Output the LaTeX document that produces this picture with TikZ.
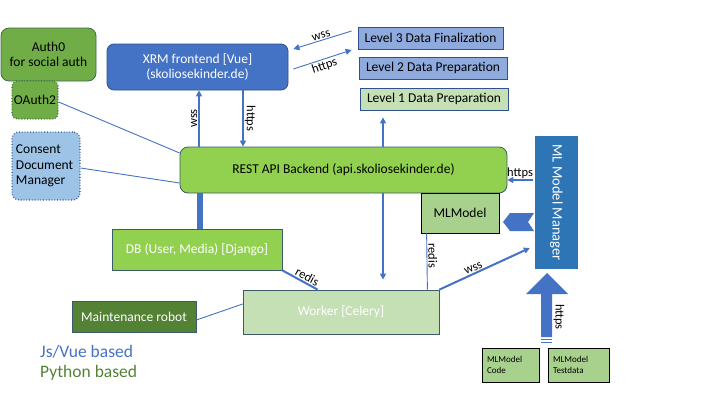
\documentclass[tikz,border=0pt]{standalone}
\usepackage{fontspec}
\setmainfont{Carlito}
\usetikzlibrary{arrows.meta}
\definecolor{jsblue}{HTML}{4472C4}
\definecolor{mgrblue}{HTML}{2E75B6}
\definecolor{lvlblue}{HTML}{8FAADC}
\definecolor{authgreen}{HTML}{70AD47}
\definecolor{restgreen}{HTML}{92D050}
\definecolor{palegreen}{HTML}{C5E0B4}
\definecolor{mlgreen}{HTML}{A9D18E}
\definecolor{pygreen}{HTML}{548235}
\definecolor{consentblue}{HTML}{9DC3E6}
\definecolor{edgegray}{HTML}{3B5B6B}
\definecolor{edgeblue}{HTML}{2F528F}
\definecolor{edgegreen}{HTML}{3D6B4F}
\begin{document}
\begin{tikzpicture}[x=1pt,y=-1pt,font=\fontsize{13.5}{15.5}\selectfont,
  box/.style={draw=edgegray,line width=0.8pt,inner sep=2pt,align=center},
  link/.style={draw=jsblue,line width=0.9pt},
  >={Triangle[length=6pt,width=6pt]},
  lbl/.style={font=\fontsize{12.5}{14}\selectfont,sloped,above,inner sep=1pt,text=black}]
\useasboundingbox (0,0) rectangle (720,405);

% auth and consent
\node[box,draw=edgegreen,fill=authgreen,rounded corners=8pt,minimum width=95pt,minimum height=53pt] (auth) at (48.5,54.5) {Auth0\\for social auth};
\node[box,draw=edgegreen,fill=authgreen,dotted,line width=1.2pt,rounded corners=5pt,minimum width=46pt,minimum height=38pt] (oauth) at (35,100) {OAuth2};
\node[box,draw=edgeblue,fill=consentblue,dotted,line width=1.2pt,rounded corners=7pt,minimum width=68pt,minimum height=68pt,inner xsep=4pt,text width=60pt,align=left] (consent) at (46,166) {Consent\\Document\\Manager};

% frontend and levels
\node[box,draw=edgeblue,fill=jsblue,text=white,rounded corners=7pt,minimum width=181pt,minimum height=46pt] (xrm) at (197.5,67) {XRM frontend [Vue]\\(skoliosekinder.de)};
\node[box,draw=edgeblue,fill=lvlblue,minimum width=145pt,minimum height=22pt] (lvl3) at (430.5,38) {Level 3 Data Finalization};
\node[box,draw=edgeblue,fill=lvlblue,minimum width=148pt,minimum height=22pt] (lvl2) at (433,68) {Level 2 Data Preparation};
\node[box,draw=edgeblue,fill=palegreen,minimum width=148pt,minimum height=22pt] (lvl1) at (434,99) {Level 1 Data Preparation};

% backend
\node[box,fill=restgreen,rounded corners=8pt,minimum width=327pt,minimum height=46pt] (rest) at (343.5,170) {REST API Backend (api.skoliosekinder.de)};
\node[box,fill=restgreen,text=white,minimum width=170pt,minimum height=41pt] (db) at (197,249.5) {DB (User, Media) [Django]};
\node[box,fill=pygreen,text=white,minimum width=124pt,minimum height=31pt] (robot) at (134,316.5) {Maintenance robot};
\node[box,fill=palegreen,text=white,minimum width=196pt,minimum height=44pt] (worker) at (341,312) {Worker [Celery]};
\node[box,draw=black,fill=mlgreen,minimum width=78pt,minimum height=40pt] (mlmodel) at (460,213) {MLModel};

% model manager
\node[fill=mgrblue,minimum width=43pt,minimum height=133pt,
  label={[rotate=-90,text=white,font=\fontsize{14.5}{16}\selectfont]center:ML Model Manager}] (manager) at (556.5,202.5) {};
\node[box,draw=black,fill=mlgreen,minimum width=57pt,minimum height=34pt,inner xsep=5pt,text width=47pt,align=left,font=\fontsize{9}{11}\selectfont] (code) at (510.5,365) {MLModel\\Code};
\node[box,draw=black,fill=mlgreen,minimum width=61pt,minimum height=34pt,inner xsep=5pt,text width=51pt,align=left,font=\fontsize{9}{11}\selectfont] (testdata) at (578.5,365) {MLModel\\Testdata};

% block arrow and chevron
\fill[jsblue] (541,337) -- (541,294) -- (526,294) -- (547,273) -- (568,294) -- (552,294) -- (552,337) -- cycle;
\fill[jsblue] (541,338.5) rectangle (552,340);
\fill[jsblue] (541,341.5) rectangle (552,343);
\node[font=\fontsize{12.5}{14}\selectfont,rotate=-90] (codehttps) at (559,317) {https};
\fill[jsblue] (503,222) -- (510,213) -- (534,213) -- (528,222) -- (534,231) -- (510,231) -- cycle;

% connectors
\draw[link,->] ([xshift=-6pt,yshift=7pt]lvl3.west) -- node[lbl] {wss} ([xshift=5pt,yshift=18pt]xrm.east);
\draw[link,->] ([xshift=5pt,yshift=-2pt]xrm.east) -- node[lbl,below] {https} ([xshift=-6pt,yshift=-12pt]lvl3.west);
\draw[link,line width=1.5pt,->] ([xshift=-144.5pt]rest.north) -- node[lbl] {wss} ([xshift=1.5pt]xrm.south);
\draw[link,line width=1.5pt,->] ([xshift=45.5pt]xrm.south) -- node[lbl] {https} ([xshift=-100.5pt]rest.north);
\draw[link] ([yshift=-2pt]oauth.east) -- ([yshift=17pt]rest.west);
\draw[link] ([yshift=-2pt]consent.east) -- ([yshift=-13pt]rest.west);
\draw[link,line width=1.5pt,->] ([xshift=39.5pt]rest.north) -- ([xshift=-51pt,yshift=-7pt]lvl1.south);
\draw[link,line width=1.5pt,->] ([xshift=39.5pt]rest.south) -- ([xshift=42pt,yshift=10pt]worker.north);
\draw[link,line width=6pt] ([xshift=-143.5pt]rest.south) -- ([xshift=3pt]db.north);
\draw[link,line width=2pt] (db.south east) -- node[lbl,pos=0.62] {redis} ([xshift=75pt]worker.north west);
\draw[link] ([yshift=-3.5pt]robot.east) -- ([yshift=8pt]worker.west);
\draw[link] ([xshift=6pt]mlmodel.south west) -- node[lbl,pos=0.4] {redis} ([xshift=-12pt]worker.north east);
\draw[link,line width=2pt,->] (worker.north east) -- node[lbl,pos=0.4] {wss} ([xshift=-5pt,yshift=-45.5pt]manager.west);
\draw[link,line width=1.5pt,->] ([xshift=-2pt,yshift=22.5pt]manager.west) -- node[lbl] {https} ([yshift=-10pt]rest.east);

% legend
\node[anchor=west,text=jsblue,font=\fontsize{17.5}{20}\selectfont,inner sep=0pt] (jslegend) at (40,352) {Js/Vue based};
\node[anchor=west,text=pygreen,font=\fontsize{17.5}{20}\selectfont,inner sep=0pt] (pylegend) at (40,373) {Python based};
\end{tikzpicture}
\end{document}
